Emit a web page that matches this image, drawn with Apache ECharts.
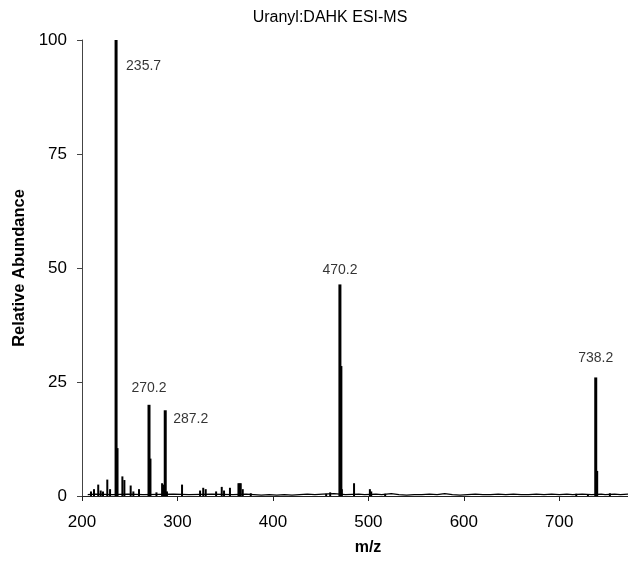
<!DOCTYPE html>
<html>
<head>
<meta charset="utf-8">
<script src="https://cdn.jsdelivr.net/npm/echarts@6/dist/echarts.min.js"></script>
<style>
  html, body { margin: 0; padding: 0; background: #fff; }
  #chart { width: 628px; height: 561px; }
</style>
</head>
<body>
<div id="chart"></div>
<script>
// main peaks [m/z, relative abundance]
const majorPeaks = [
  [235.7, 100], [236.7, 10.5],
  [270.2, 20], [271.2, 8.2],
  [287.2, 18.8],
  [470.2, 46.4], [471.2, 28.5],
  [738.2, 26], [739.2, 5.5]
]
// small peaks
const minorPeaks = [
  [209.4, 1], [212.6, 1.5], [217, 2.5], [219.6, 1.2], [222, 1], [226.5, 3.6],
  [229.4, 1.5], [242.3, 4.3], [244.4, 3.5], [251, 2.3], [253.8, 1], [259.7, 1.5],
  [278, 0.8], [283.9, 2.8], [285, 2.5], [289, 1], [304.8, 2.5], [323.7, 1.2],
  [327, 1.8], [329.6, 1.5], [340.5, 1], [346.4, 2], [348.8, 1.2], [355, 1.8],
  [363.9, 2.8], [365.1, 2.8], [366.3, 2.8], [368.4, 1.5], [376.8, 0.6],
  [455.8, 0.5], [460, 0.8], [472.2, 1.5], [485, 2.8], [501.6, 1.5], [503, 1],
  [517.6, 0.5], [717.8, 0.5], [730, 0.4], [753, 0.6]
]
// baseline noise
const noise = [
  [206, 0.3], [214, 0.4], [232, 0.3], [248, 0.4], [264, 0.3], [296, 0.4], [312, 0.3],
  [336, 0.4], [358, 0.3], [372, 0.4], [380, 0.3], [388, 0.2], [396, 0.3], [404, 0.2],
  [412, 0.3], [420, 0.2], [428, 0.3], [436, 0.4], [444, 0.3], [452, 0.4], [464, 0.5],
  [476, 0.3], [490, 0.4], [496, 0.3], [508, 0.4], [514, 0.3], [524, 0.5], [532, 0.3],
  [540, 0.2], [548, 0.3], [556, 0.3], [564, 0.4], [572, 0.3], [580, 0.5], [588, 0.3],
  [596, 0.2], [604, 0.3], [612, 0.4], [620, 0.3], [628, 0.3], [636, 0.4], [644, 0.3],
  [652, 0.4], [660, 0.3], [668, 0.3], [676, 0.4], [684, 0.3], [692, 0.4], [700, 0.3],
  [708, 0.4], [714, 0.3], [724, 0.4], [734, 0.3], [744, 0.4], [748, 0.3], [758, 0.4],
  [764, 0.3], [772, 0.4]
]
const labelledPeaks = [[235.7, 100], [270.2, 20], [287.2, 18.8], [470.2, 46.4], [738.2, 26]]
const yTicks = [0, 25, 50, 75, 100]

const labelSpots = {
  '235.7': { position: 'right', distance: 10, offset: [0, 26] },
  '287.2': { position: 'right', distance: 8, offset: [0, 9] },
  '270.2': { position: 'top', distance: 10 },
  '470.2': { position: 'top', distance: 7 },
  '738.2': { position: 'top', distance: 12 }
}

function stick(width) {
  return function (params, api) {
    const x = api.value(0)
    const top = api.coord([x, api.value(1)])
    const base = api.coord([x, 0])
    return {
      type: 'line',
      shape: { x1: top[0], y1: top[1], x2: base[0], y2: base[1] },
      style: { stroke: '#000', lineWidth: width }
    }
  }
}

const chart = echarts.init(document.getElementById('chart'))
chart.setOption({
  animation: false,
  backgroundColor: '#fff',
  title: {
    text: 'Uranyl:DAHK ESI-MS',
    left: 330, top: 10, padding: 0, textAlign: 'center',
    textStyle: { fontFamily: 'Liberation Sans', fontSize: 16, fontWeight: 'normal', color: '#000' }
  },
  grid: { left: 82, right: 0, top: 40, bottom: 64 },
  xAxis: {
    type: 'value', min: 200, max: 772, interval: 100,
    name: 'm/z', nameLocation: 'middle', nameGap: 44,
    nameTextStyle: { fontFamily: 'Liberation Sans', fontSize: 16, fontWeight: 'bold', color: '#000', padding: [0, 0, 0, 26] },
    axisLine: { onZero: false, lineStyle: { color: '#222', width: 1 } },
    axisTick: { length: 5, lineStyle: { color: '#222' } },
    axisLabel: { margin: 18, fontFamily: 'Liberation Sans', fontSize: 17, color: '#000', showMaxLabel: false },
    splitLine: { show: false }
  },
  yAxis: {
    type: 'value', min: yTicks[0], max: yTicks[yTicks.length - 1], interval: 25,
    name: 'Relative Abundance', nameLocation: 'middle', nameGap: 52, nameRotate: 90,
    nameTextStyle: { fontFamily: 'Liberation Sans', fontSize: 16.5, fontWeight: 'bold', color: '#000' },
    axisLine: { show: true, lineStyle: { color: '#444', width: 1 } },
    axisTick: { show: true, length: 5, lineStyle: { color: '#444' } },
    axisLabel: { margin: 15, fontFamily: 'Liberation Sans', fontSize: 17, color: '#000' },
    splitLine: { show: false }
  },
  series: [
    { type: 'line', data: noise, symbol: 'none', lineStyle: { color: '#000', width: 1.3 }, z: 2 },
    { type: 'custom', data: minorPeaks, renderItem: stick(2), clip: true, z: 3 },
    { type: 'custom', data: majorPeaks, renderItem: stick(3), clip: true, z: 4 },
    {
      type: 'scatter', symbolSize: 0, z: 5,
      data: labelledPeaks.map(function (p) {
        const t = p[0].toFixed(1)
        return { value: p, label: Object.assign({ show: true, formatter: t, color: '#000' }, labelSpots[t]) }
      }),
      label: { fontFamily: 'Liberation Sans', fontSize: 14, color: '#000' }
    }
  ]
})
</script>
</body>
</html>
